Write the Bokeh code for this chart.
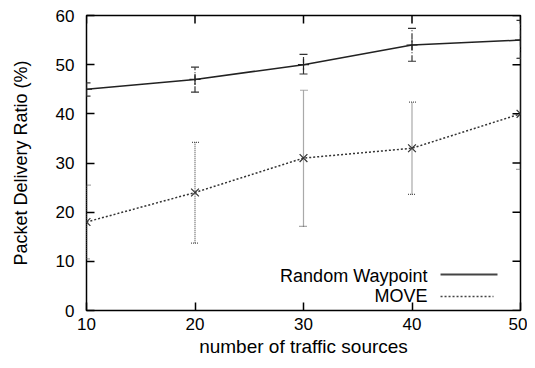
from bokeh.plotting import figure
from bokeh.models import ColumnDataSource, Whisker, TeeHead, FixedTicker, Range1d, Label
from bokeh.embed import file_html
from bokeh.resources import INLINE

sources = [10, 20, 30, 40, 50]
rwp = [45, 47, 50, 54, 55]
rwp_lo = [43.6, 44.4, 48.1, 50.7, 51.3]
rwp_hi = [46.3, 49.5, 52.1, 57.4, 59.0]
move = [18, 24, 31, 33, 40]
move_lo = [10.5, 13.7, 17.1, 23.6, 28.7]
move_hi = [25.5, 34.2, 44.8, 42.4, 51.3]
x_ticks = [10, 20, 30, 40, 50]
y_ticks = [0, 10, 20, 30, 40, 50, 60]
legend_labels = ["Random Waypoint", "MOVE"]

FONT = "Liberation Sans"
X0, X1, Y0, Y1 = 10, 50, 0, 60

p = figure(width=527, height=360, output_backend="svg", toolbar_location=None,
           x_range=Range1d(X0, X1), y_range=Range1d(Y0, Y1),
           min_border_left=86, min_border_right=7, min_border_top=15, min_border_bottom=50)
p.grid.visible = False
p.outline_line_color = "black"
p.outline_line_width = 1.5
p.background_fill_color = "white"
p.border_fill_color = "white"

for ax in (p.xaxis[0], p.yaxis[0]):
    ax.major_tick_in = 8
    ax.major_tick_out = 0
    ax.minor_tick_line_color = None
    ax.axis_line_color = None
    ax.major_tick_line_width = 1.5
    ax.major_label_text_font = FONT
    ax.major_label_text_font_size = "17px"
    ax.major_label_text_color = "black"
    ax.axis_label_text_font = FONT
    ax.axis_label_text_font_style = "normal"
    ax.axis_label_text_color = "black"
p.xaxis.axis_label_text_font_size = "19px"
p.yaxis.axis_label_text_font_size = "18px"
p.xaxis.ticker = FixedTicker(ticks=x_ticks)
p.yaxis.ticker = FixedTicker(ticks=y_ticks)
p.xaxis.axis_label = "number of traffic sources"
p.yaxis.axis_label = "Packet Delivery Ratio (%)"
p.xaxis.major_label_standoff = 7
p.yaxis.major_label_standoff = 12
p.xaxis.axis_label_standoff = 3
p.yaxis.axis_label_standoff = 22

# mirrored inward ticks on top and right (clipped to frame)
p.scatter(x_ticks, [Y1] * len(x_ticks), marker="dash", angle=1.5708, size=16,
          line_color="black", line_width=1.5)
p.scatter([X1] * len(y_ticks), y_ticks, marker="dash", size=16,
          line_color="black", line_width=1.5)

src_r = ColumnDataSource(dict(x=sources, y=rwp, lo=rwp_lo, hi=rwp_hi))
src_m = ColumnDataSource(dict(x=sources, y=move, lo=move_lo, hi=move_hi))

w1 = Whisker(source=src_r, base="x", lower="lo", upper="hi", line_color="#333333",
             line_width=1.2, line_dash="6 2 1 2",
             upper_head=TeeHead(size=8, line_color="#333333", line_width=1.2),
             lower_head=TeeHead(size=8, line_color="#333333", line_width=1.2))
w2 = Whisker(source=src_m, base="x", lower="lo", upper="hi", line_color="#555555",
             line_width=1.2, line_dash="1 1",
             upper_head=TeeHead(size=8, line_color="#555555", line_width=1.2, line_dash="1 1"),
             lower_head=TeeHead(size=8, line_color="#555555", line_width=1.2, line_dash="1 1"))
p.add_layout(w1)
p.add_layout(w2)

p.line("x", "y", source=src_r, line_color="#222222", line_width=1.5)
p.scatter("x", "y", source=src_r, marker="cross", size=11, line_color="#222222", line_width=1.2)
p.line("x", "y", source=src_m, line_color="#333333", line_width=1.5, line_dash="2 2")
p.scatter("x", "y", source=src_m, marker="x", size=11, line_color="#333333", line_width=1.2)

# legend (gnuplot style: text then sample)
p.add_layout(Label(x=341, y=35, x_units="screen", y_units="screen",
                   text=legend_labels[0], text_align="right", text_baseline="middle",
                   text_font=FONT, text_font_size="18px", text_color="black"))
p.add_layout(Label(x=341, y=15, x_units="screen", y_units="screen",
                   text=legend_labels[1], text_align="right", text_baseline="middle",
                   text_font=FONT, text_font_size="18px", text_color="black"))
p.line([42.63, 47.88], [7.32, 7.32], line_color="#444444", line_width=2)
p.line([42.63, 47.51], [2.85, 2.85], line_color="#444444", line_width=1.5, line_dash="2 2")

open("out.html", "w").write(file_html(p, INLINE))
